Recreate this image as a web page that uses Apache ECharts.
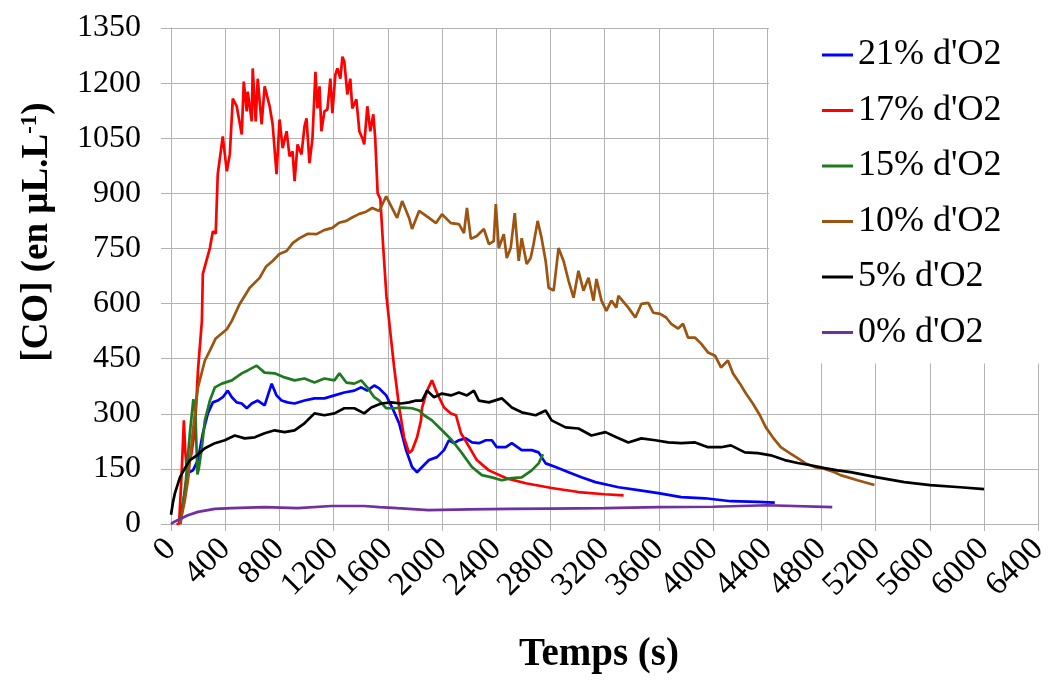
<!DOCTYPE html>
<html><head><meta charset="utf-8">
<script src="https://cdn.jsdelivr.net/npm/echarts/dist/echarts.min.js"></script>
<style>html,body{margin:0;padding:0;background:#fff}#c{width:1052px;height:681px}</style>
</head><body><div id="c"></div>
<script>
const seriesNames = ["21% d'O2", "17% d'O2", "15% d'O2", "10% d'O2", "5% d'O2", "0% d'O2"];
const seriesColors = ['#0000ff', '#ff0000', '#1f7a1f', '#9c5410', '#000000', '#7030a0'];

const t21 = [60,100,130,162,199,235,272,309,345,382,419,449,485,522,559,596,640,691,743,779,816,860,912,985,1059,1132,1206,1279,1353,1404,1448,1500,1537,1588,1632,1684,1735,1779,1816,1853,1904,1963,2015,2051,2088,2125,2176,2221,2272,2324,2368,2404,2471,2515,2588,2662,2713,2765,2838,2934,3029,3132,3228,3302,3449,3596,3765,3941,4132,4331,4456];
const co21 = [0,80,140,146,174,247,301,331,336,345,363,345,331,328,315,328,336,323,382,350,336,331,328,336,342,342,350,358,363,372,363,377,369,350,317,274,201,155,141,155,174,182,201,228,220,228,233,222,220,228,228,209,209,220,201,201,195,165,155,141,127,114,106,100,92,84,73,70,62,60,58];

const t17 = [40,60,80,95,105,118,150,176,199,228,235,287,309,330,345,382,412,434,456,485,522,537,559,566,596,603,625,640,669,691,728,750,779,801,824,853,875,897,912,934,963,985,1000,1022,1044,1066,1081,1096,1110,1132,1154,1176,1191,1213,1228,1250,1265,1279,1294,1301,1323,1338,1368,1390,1412,1426,1449,1471,1493,1507,1525,1545,1565,1590,1625,1647,1684,1720,1757,1780,1816,1845,1853,1890,1926,1956,1978,2015,2066,2103,2140,2184,2257,2346,2471,2618,2809,3007,3200,3340];
const co17 = [0,0,150,282,200,146,190,255,418,553,681,751,797,790,952,1055,960,1006,1158,1137,1060,1204,1123,1177,1096,1240,1096,1212,1088,1191,1137,1088,952,1101,1023,1069,1001,1014,933,1033,1006,1082,1104,982,1050,1231,1131,1191,1069,1123,1128,1212,1118,1223,1240,1212,1272,1259,1199,1169,1212,1131,1156,1069,1050,1033,1137,1069,1115,1050,900,885,760,620,500,426,317,236,193,201,236,282,317,363,391,363,345,317,301,296,247,220,174,146,125,111,98,87,81,78];

const t15 = [70,110,140,165,180,195,205,228,250,287,324,375,449,522,566,632,691,765,838,912,985,1059,1132,1206,1243,1294,1353,1404,1448,1500,1537,1588,1647,1706,1779,1831,1868,1926,2000,2074,2147,2221,2294,2368,2441,2515,2588,2662,2713,2745];
const co15 = [0,120,250,340,300,135,150,209,282,336,372,382,391,410,418,431,412,410,399,391,396,385,396,391,410,385,382,391,372,345,336,315,315,317,315,309,296,282,255,228,193,155,133,127,119,125,127,146,165,190];

const t10 = [66,100,125,162,199,250,287,330,412,449,507,581,654,700,750,800,853,900,949,1010,1074,1130,1191,1240,1294,1340,1390,1440,1485,1537,1588,1632,1669,1706,1757,1779,1831,1904,1956,2000,2066,2125,2162,2184,2213,2257,2309,2346,2382,2397,2419,2456,2478,2507,2537,2566,2588,2625,2654,2676,2706,2735,2765,2787,2824,2860,2897,2934,2971,3007,3044,3081,3118,3140,3177,3213,3250,3287,3302,3375,3427,3471,3522,3559,3610,3654,3691,3743,3779,3816,3868,3912,3963,4015,4059,4110,4147,4199,4243,4294,4346,4390,4441,4500,4566,4625,4684,4750,4824,4897,4941,5066,5191];
const co10 = [0,60,119,255,372,445,472,505,530,553,599,643,670,700,716,735,743,765,778,790,789,800,806,820,825,835,844,850,860,852,892,860,833,879,833,803,852,833,819,843,819,816,792,860,776,784,803,762,770,871,751,789,724,751,846,716,778,708,724,762,825,778,716,643,635,751,716,662,616,689,635,670,608,667,608,580,608,589,621,589,562,599,602,575,572,562,545,532,545,507,507,491,467,458,426,445,410,382,355,328,296,263,236,209,193,179,165,155,150,141,133,119,106];

const t5 = [0,15,29,66,103,140,191,250,324,397,471,544,618,691,765,838,912,985,1059,1132,1206,1279,1353,1426,1478,1551,1625,1699,1757,1809,1853,1890,1941,2000,2066,2125,2184,2235,2272,2346,2441,2515,2588,2691,2765,2809,2912,3007,3103,3206,3287,3375,3471,3574,3669,3765,3868,3963,4059,4132,4235,4331,4427,4529,4625,4721,4824,4919,5015,5213,5412,5603,5824,6000];
const co5 = [25,60,84,127,152,174,187,206,220,228,241,233,236,247,255,250,255,274,301,296,301,315,315,301,317,328,331,328,331,336,336,363,345,355,350,358,350,363,336,331,342,317,304,296,309,282,263,260,241,250,236,222,233,228,222,220,222,209,209,214,195,193,187,174,166,160,152,146,141,127,114,106,100,95];

const t0 = [0,20,51,125,199,324,449,691,934,1184,1426,1537,1669,1900,2200,2500,2800,3200,3600,4000,4400,4880];
const co0 = [0,5,11,24,33,41,43,46,43,49,49,46,43,38,40,41,42,43,46,47,51,46];

const xTicks = {min: 0, max: 6400, step: 400};
const yTicks = {min: 0, max: 1350, step: 150};

const times = [t21, t17, t15, t10, t5, t0];
const values = [co21, co17, co15, co10, co5, co0];

const FONT = 'Liberation Serif, Times New Roman, serif';
const gridColor = '#b3b3b3';

const chart = echarts.init(document.getElementById('c'));
chart.setOption({
  animation: false,
  backgroundColor: '#fff',
  grid: {left: 171, right: 9, top: 28, bottom: 157, containLabel: false},
  xAxis: {
    type: 'value', min: xTicks.min, max: xTicks.max, interval: xTicks.step,
    axisLine: {show: true, lineStyle: {color: gridColor, width: 1}},
    axisTick: {show: true, inside: false, length: 7, lineStyle: {color: gridColor}},
    axisLabel: {rotate: 45, fontFamily: FONT, fontSize: 33, color: '#000', margin: 20, formatter: v => String(v)},
    splitLine: {show: true, lineStyle: {color: gridColor, width: 1}}
  },
  yAxis: {
    type: 'value', min: yTicks.min, max: yTicks.max, interval: yTicks.step,
    axisLine: {show: true, lineStyle: {color: gridColor, width: 1}},
    axisTick: {show: true, inside: false, length: 10, lineStyle: {color: gridColor}},
    axisLabel: {fontFamily: FONT, fontSize: 32, color: '#000', margin: 30, formatter: v => String(v)},
    splitLine: {show: true, lineStyle: {color: gridColor, width: 1}}
  },
  legend: {
    orient: 'vertical', left: 769, top: 0,
    backgroundColor: '#fff',
    padding: [37, 40, 13, 53],
    icon: 'rect', itemWidth: 31, itemHeight: 3, itemGap: 19.5,
    selectedMode: false,
    textStyle: {fontFamily: FONT, fontSize: 36, color: '#000', lineHeight: 35},
    data: seriesNames
  },
  graphic: [
    {type: 'text', x: 599, y: 655, style: {text: 'Temps (s)', fontFamily: FONT, fontSize: 39, fontWeight: 'bold', fill: '#000', align: 'center', verticalAlign: 'middle', textAlign: 'center', textVerticalAlign: 'middle'}},
    {type: 'text', x: 37, y: 232, rotation: Math.PI / 2,
     style: {text: '{b|[CO] (en µL.L}{s|-1}{b|)}', align: 'center', verticalAlign: 'middle', textAlign: 'center', textVerticalAlign: 'middle', fill: '#000',
       rich: {b: {fontFamily: FONT, fontSize: 37, fontWeight: 'bold', fill: '#000'}, s: {fontFamily: FONT, fontSize: 23, fontWeight: 'bold', fill: '#000', verticalAlign: 'top'}}}}
  ],
  series: seriesNames.map((name, i) => ({
    name: name, type: 'line', showSymbol: false, symbol: 'none',
    color: seriesColors[i],
    lineStyle: {color: seriesColors[i], width: 2.7},
    data: times[i].map((t, k) => [t, values[i][k]])
  }))
});
</script></body></html>
